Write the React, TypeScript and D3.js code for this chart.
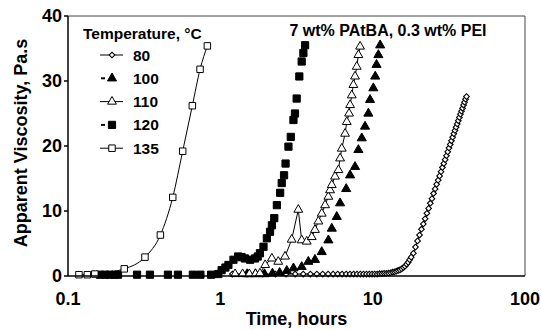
import React from "react";
import * as d3 from "d3";

// Apparent viscosity (Pa.s) vs time (hours)
const SERIES_80: [number, number][] = [
  [1.2, 0.3], [1.5, 0.3], [1.9, 0.3], [2.3, 0.3], [2.7, 0.3], [3.1, 0.3], [3.5, 0.3],
  [3.9, 0.3], [4.3, 0.3], [4.7, 0.3], [5.1, 0.3], [5.5, 0.3], [5.9, 0.3], [6.3, 0.3],
  [6.7, 0.3], [7.1, 0.3], [7.5, 0.3], [7.9, 0.3], [8.3, 0.3], [8.7, 0.3], [9.1, 0.3],
  [9.5, 0.3], [9.9, 0.3], [10.3, 0.3], [10.7, 0.3], [11.1, 0.35], [11.5, 0.35],
  [11.9, 0.4], [12.3, 0.4], [12.7, 0.45], [13.1, 0.5], [13.5, 0.6], [13.9, 0.65],
  [14.3, 0.75], [14.7, 0.85], [15.1, 0.95], [15.5, 1.1], [15.9, 1.3], [16.3, 1.5],
  [16.7, 1.8], [17.1, 2.1], [17.5, 2.5], [17.9, 2.9], [18.5, 3.5], [19.1, 4.45],
  [19.7, 5.4], [20.3, 6.3], [20.9, 7.2], [21.5, 8.0], [22.1, 8.8], [22.7, 9.65],
  [23.3, 10.4], [23.9, 11.2], [24.5, 11.9], [25.1, 12.7], [25.7, 13.4], [26.3, 14.1],
  [26.9, 14.75], [27.5, 15.4], [28.1, 16.05], [28.7, 16.7], [29.3, 17.3], [29.9, 17.9],
  [30.5, 18.5], [31.1, 19.1], [31.7, 19.7], [32.3, 20.25], [32.9, 20.8], [33.5, 21.35],
  [34.1, 21.9], [34.7, 22.4], [35.3, 22.9], [35.9, 23.4], [36.5, 23.9], [37.1, 24.4],
  [37.7, 24.9], [38.3, 25.35], [38.9, 25.8], [39.5, 26.3], [40.1, 26.75], [40.7, 27.2],
  [41.3, 27.6],
];

const SERIES_100: [number, number][] = [
  [1.5, 0.3], [1.7, 0.3], [1.95, 0.3], [2.2, 0.4], [2.45, 0.5], [2.73, 0.8], [3.02, 1.2],
  [3.42, 1.4], [3.78, 2.2], [4.18, 2.5], [4.63, 3.7], [5.12, 5.5], [5.39, 7.3],
  [5.81, 9.1], [6.11, 11.2], [6.7, 13.4], [7.11, 15.5], [7.66, 16.8], [8.06, 19.4],
  [8.48, 21.2], [8.91, 23], [9.37, 25], [9.61, 27.1], [10.1, 28.9], [10.4, 30.7],
  [10.6, 32.5], [10.9, 34], [11.2, 35.5],
];

const SERIES_110: [number, number][] = [
  [1.25, 0.3], [1.4, 0.3], [1.55, 0.3], [1.7, 0.3], [1.82, 0.4], [1.97, 1.7],
  [2.18, 2.7], [2.4, 2.2], [2.66, 3.0], [2.94, 5.6], [3.25, 10.2], [3.42, 5.5],
  [3.69, 5.3], [3.98, 6.0], [4.18, 7.1], [4.4, 8.4], [4.63, 9.6], [4.87, 10.9],
  [5.12, 12.2], [5.25, 13.2], [5.39, 14], [5.66, 15.3], [5.96, 16.3], [6.11, 18.1],
  [6.27, 19.6], [6.59, 21.9], [6.76, 23.7], [7.0, 25], [7.11, 26.3], [7.29, 27.8],
  [7.47, 29.4], [7.66, 30.7], [7.86, 32.2], [8.06, 34], [8.27, 35.3],
];

const SERIES_120: [number, number][] = [
  [0.162, 0.2], [0.175, 0.2], [0.188, 0.2], [0.203, 0.2], [0.213, 0.2], [0.284, 0.2],
  [0.345, 0.2], [0.453, 0.2], [0.527, 0.2], [0.66, 0.2], [0.74, 0.2], [0.87, 0.2],
  [0.97, 0.3], [1.02, 0.9], [1.08, 1.3], [1.13, 1.7], [1.22, 2.5], [1.31, 3.0],
  [1.38, 2.9], [1.45, 2.7], [1.57, 2.5], [1.69, 2.7], [1.76, 3.0], [1.82, 3.5],
  [1.92, 4.5], [2.02, 5.8], [2.12, 6.8], [2.18, 7.8], [2.26, 8.9], [2.35, 10.9],
  [2.47, 12.8], [2.53, 14.3], [2.62, 15.5], [2.68, 17.3], [2.8, 19.9], [2.9, 21.4],
  [3.02, 24], [3.09, 25], [3.17, 27.3], [3.3, 30.7], [3.42, 33], [3.51, 34.3], [3.6, 35.5],
];

const SERIES_135: [number, number][] = [
  [0.118, 0.2], [0.134, 0.2], [0.15, 0.3], [0.234, 1.1], [0.32, 2.9], [0.404, 6.3],
  [0.487, 12.1], [0.566, 19.2], [0.655, 26.2], [0.736, 31.8], [0.822, 35.4],
];

const TEMPS = ["80", "100", "110", "120", "135"];
const X_TICKS = [0.1, 1, 10, 100];
const X_TICK_LABELS = ["0.1", "1", "10", "100"];
const Y_TICKS = [0, 10, 20, 30, 40];

const W = 541;
const H = 330;
const FONT = "'Liberation Sans', Arial, Helvetica, sans-serif";

type Marker = "diamond" | "triFill" | "triOpen" | "sqFill" | "sqOpen";

const symbolPath = (m: Marker) => {
  if (m === "diamond") return d3.symbol(d3.symbolSquare, 16)()!;
  if (m === "triFill") return d3.symbol(d3.symbolTriangle, 36)()!;
  if (m === "triOpen") return d3.symbol(d3.symbolTriangle, 34)()!;
  return d3.symbol(d3.symbolSquare, m === "sqFill" ? 52 : 42)()!;
};

const MarkerShape = ({ m, x, y }: { m: Marker; x: number; y: number }) => {
  const filled = m === "triFill" || m === "sqFill";
  const rot = m === "diamond" ? " rotate(45)" : "";
  return (
    <path
      d={symbolPath(m)}
      transform={`translate(${x},${y})${rot}`}
      fill={filled ? "#000" : "#fff"}
      stroke="#000"
      strokeWidth={m === "diamond" ? 1.1 : 1}
    />
  );
};

const SERIES: { name: string; data: [number, number][]; marker: Marker; line: boolean; curve: d3.CurveFactory }[] = [
  { name: TEMPS[0], data: SERIES_80, marker: "diamond", line: true, curve: d3.curveLinear },
  { name: TEMPS[1], data: SERIES_100, marker: "triFill", line: false, curve: d3.curveLinear },
  { name: TEMPS[2], data: SERIES_110, marker: "triOpen", line: true, curve: d3.curveLinear },
  { name: TEMPS[3], data: SERIES_120, marker: "sqFill", line: false, curve: d3.curveLinear },
  { name: TEMPS[4], data: SERIES_135, marker: "sqOpen", line: true, curve: d3.curveMonotoneX },
];

export default function App() {
  const left = 68, right = 525, top = 16, bottom = 276;
  const x = d3.scaleLog().domain([0.1, 100]).range([left, right]);
  const y = d3.scaleLinear().domain([0, 40]).range([bottom, top]);

  return (
    <svg
      width={W}
      height={H}
      style={{ position: "absolute", left: 0, top: 0, background: "#fff" }}
      fontFamily={FONT}
      fontWeight="bold"
    >
      {/* series */}
      {SERIES.map((s) => {
        const line = d3
          .line<[number, number]>()
          .x((d) => x(d[0]))
          .y((d) => y(d[1]))
          .curve(s.curve);
        return (
          <g key={s.name}>
            {s.line && <path d={line(s.data)!} fill="none" stroke="#000" strokeWidth={1} />}
            {s.data.map((d, i) => (
              <MarkerShape key={i} m={s.marker} x={x(d[0])} y={y(d[1])} />
            ))}
          </g>
        );
      })}

      {/* frame */}
      <line x1={left} x2={right} y1={top} y2={top} stroke="#444" strokeWidth={1} />
      <line x1={right} x2={right} y1={top} y2={bottom} stroke="#444" strokeWidth={1} />
      <line x1={left} x2={right} y1={bottom} y2={bottom} stroke="#000" strokeWidth={1.5} />
      <line x1={left} x2={left} y1={top} y2={bottom} stroke="#000" strokeWidth={1.5} />

      {/* y axis */}
      {Y_TICKS.map((t) => (
        <g key={t}>
          <line x1={left - 4} x2={left} y1={y(t)} y2={y(t)} stroke="#000" strokeWidth={1.5} />
          <text x={left - 6} y={y(t)} dy="0.36em" textAnchor="end" fontSize={18} fill="#000">
            {t}
          </text>
        </g>
      ))}
      <text
        transform={`translate(27,${(top + bottom) / 2 - 3}) rotate(-90)`}
        textAnchor="middle"
        fontSize={18}
        fill="#000"
      >
        Apparent Viscosity, Pa.s
      </text>

      {/* x axis */}
      {X_TICKS.map((t, i) => (
        <text key={t} x={x(t)} y={305} textAnchor="middle" fontSize={18} fill="#000">
          {X_TICK_LABELS[i]}
        </text>
      ))}
      <text x={(left + right) / 2} y={325} textAnchor="middle" fontSize={18} fill="#000">
        Time, hours
      </text>

      {/* annotation */}
      <text x={388} y={36} textAnchor="middle" fontSize={16} fill="#000">
        7 wt% PAtBA, 0.3 wt% PEI
      </text>

      {/* legend */}
      <text x={83} y={39} fontSize={15.5} fill="#000">
        Temperature, °C
      </text>
      {SERIES.map((s, i) => {
        const ly = 55 + i * 23.3;
        return (
          <g key={s.name}>
            {s.line ? (
              <line x1={100} x2={123} y1={ly} y2={ly} stroke="#000" strokeWidth={1} />
            ) : (
              <line x1={101} x2={105} y1={ly} y2={ly} stroke="#000" strokeWidth={2} />
            )}
            <MarkerShape m={s.marker} x={112} y={ly} />
            <text x={133} y={ly} dy="0.36em" fontSize={15.5} fill="#000">
              {s.name}
            </text>
          </g>
        );
      })}
    </svg>
  );
}
